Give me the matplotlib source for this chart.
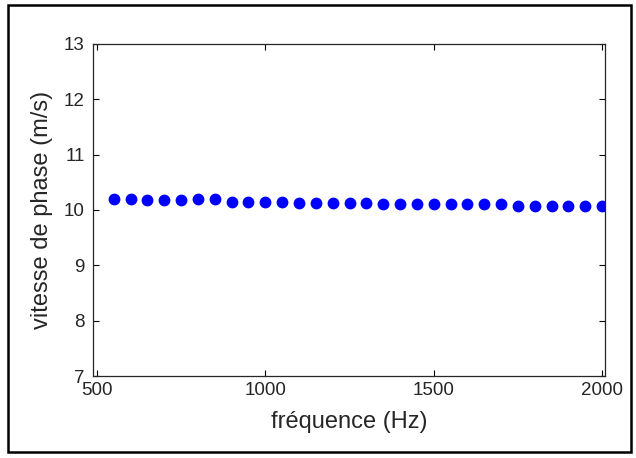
import matplotlib
matplotlib.use('Agg')
import matplotlib.pyplot as plt
from matplotlib.patches import Rectangle

plt.rcParams['font.family'] = ['Liberation Sans', 'DejaVu Sans']

freq = [550, 600, 650, 700, 750, 800, 850, 900, 950, 1000,
        1050, 1100, 1150, 1200, 1250, 1300, 1350, 1400, 1450, 1500,
        1550, 1600, 1650, 1700, 1750, 1800, 1850, 1900, 1950, 2000]
vitesse = [10.20, 10.20, 10.18, 10.18, 10.18, 10.19, 10.19, 10.15, 10.15, 10.15,
           10.15, 10.13, 10.13, 10.13, 10.13, 10.13, 10.11, 10.11, 10.11, 10.11,
           10.11, 10.11, 10.11, 10.11, 10.08, 10.08, 10.08, 10.08, 10.08, 10.08]
xticks = [500, 1000, 1500, 2000]
yticks = [7, 8, 9, 10, 11, 12, 13]

fig = plt.figure(figsize=(6.36, 4.58), dpi=100)
ax = fig.add_axes([0.146, 0.179, 0.805, 0.725])

ax.plot(freq, vitesse, 'o', color='#0000ff', markersize=8.5, markeredgewidth=0)

ax.set_xlim(488, 2008)
ax.set_ylim(7, 13)
ax.set_xticks(xticks)
ax.set_yticks(yticks)
ax.tick_params(direction='in', top=True, right=True, length=4,
               labelsize=13.5, labelcolor='#262626', width=0.8)
ax.tick_params(axis='x', pad=4)
ax.tick_params(axis='y', pad=6)
for s in ax.spines.values():
    s.set_linewidth(0.9)
    s.set_color('#262626')

ax.set_xlabel('fréquence (Hz)', fontsize=17, color='#262626', labelpad=9)
ax.set_ylabel('vitesse de phase (m/s)', fontsize=17, color='#262626', labelpad=8)

# cadre autour de la figure
fig.patches.append(Rectangle((0.0126, 0.013), 0.979, 0.976, transform=fig.transFigure,
                             fill=False, lw=1.8, edgecolor='black'))

fig.savefig('out.png', dpi=100)
